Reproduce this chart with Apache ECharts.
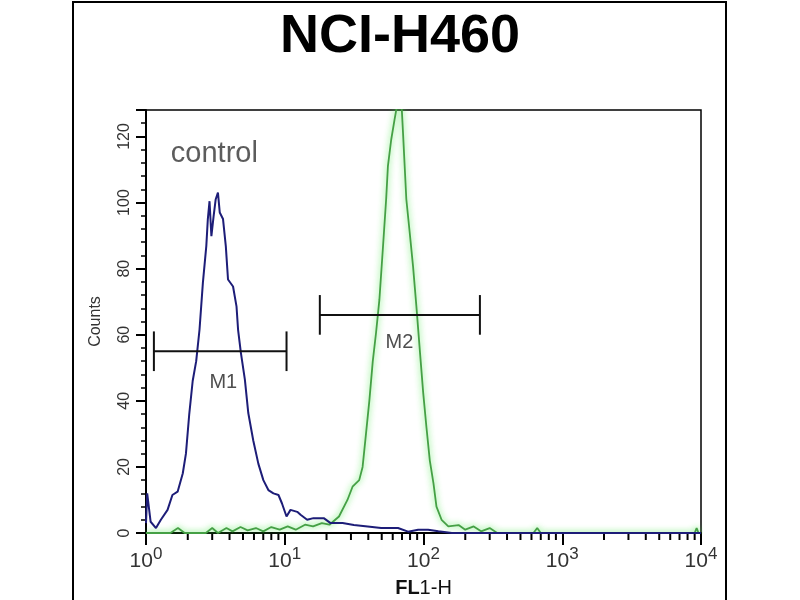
<!DOCTYPE html>
<html>
<head>
<meta charset="utf-8">
<script src="https://cdn.jsdelivr.net/npm/echarts@6/dist/echarts.min.js"></script>
<style>
  html, body { margin: 0; padding: 0; background: #fff; }
  #chart { width: 800px; height: 600px; }
</style>
</head>
<body>
<div id="chart"></div>
<script>
// control histogram (blue), FL1-H channel value -> counts
var blueX = [1.0, 1.02, 1.08, 1.18, 1.28, 1.43, 1.55, 1.69, 1.84, 1.94,
  2.05, 2.17, 2.30, 2.43, 2.57, 2.72, 2.79, 2.87, 2.96, 3.07,
  3.18, 3.30, 3.40, 3.59, 3.76, 3.90, 4.24, 4.49, 4.61, 4.83,
  5.16, 5.46, 5.93, 6.45, 7.01, 7.62, 8.29, 9.01, 9.54, 10.3,
  11.0, 12.3, 13.0, 14.5, 16.1, 19.1, 21.4, 26.1, 31.5, 39.6,
  49.5, 65.5, 77.4, 91.5, 108, 128, 160, 10000];
var blueY = [3, 12, 3.4, 1.5, 4, 7, 11.5, 12.5, 18, 24,
  36, 46, 52, 61.5, 75.7, 86.8, 95, 100.4, 89.8, 95.8,
  101, 103, 97, 95, 86.8, 76.7, 74.6, 68.6, 61.5, 54.5,
  46.4, 36.3, 28, 21, 16, 13, 12, 11.5, 9, 5,
  7, 6.4, 5.5, 4, 4.5, 4.5, 3, 3, 2.4, 2,
  1.5, 1.5, 0.4, 1, 1, 0.5, 0, 0];

// stained sample (green)
var greenX = [1, 1.5, 1.7, 1.9, 2.7, 3.0, 3.3, 3.8, 4.2, 4.8,
  5.4, 6.2, 7.0, 8.0, 9.2, 10.5, 12, 14, 16, 18.5,
  21, 24.6, 28.3, 30.8, 34.4, 36.4, 38.5, 40.7, 43.1, 45.5,
  48.1, 50.9, 53.8, 55.4, 58.5, 61.8, 65.5, 69.2, 71.2, 75.2,
  79.5, 84.1, 88.9, 94.0, 99.5, 105, 111, 118, 124, 135,
  151, 179, 200, 230, 260, 300, 340, 620, 660, 700,
  9000, 9300, 9600, 10000];
var greenY = [0, 0, 1.5, 0, 0, 1.5, 0, 1.5, 0.5, 1.8,
  0.8, 1.5, 0.5, 1.8, 1, 2, 1, 2.5, 2, 3,
  2.5, 5, 10, 14, 16, 20, 30, 40, 52, 60.6,
  70.6, 85.8, 101, 111, 119, 125, 131, 131, 121, 101,
  91, 80.6, 68.5, 55.5, 42.4, 32, 22, 15, 8, 4,
  2, 2.4, 1, 2, 0.5, 1.5, 0, 0, 1.5, 0,
  0, 1.5, 0, 0];

// marker gates
var gateNames = ['M1', 'M2'];
var gateFrom = [1.14, 17.9];
var gateTo = [10.3, 255];
var gateLevel = [55, 66];
var gateLabelX = [3.61, 67];
var gateLabelY = [45.5, 57.6];

var noteText = 'control';
var noteX = 3.11;
var noteY = 114.6;

var minorTickVals = [2, 3, 4, 5, 6, 7, 8, 9,
  20, 30, 40, 50, 60, 70, 80, 90,
  200, 300, 400, 500, 600, 700, 800, 900,
  2000, 3000, 4000, 5000, 6000, 7000, 8000, 9000];

var font = "'Liberation Sans', Arial, sans-serif";

function pairs(xs, ys) {
  return xs.map(function(x, i) { return [x, ys[i]]; });
}

var chart = echarts.init(document.getElementById('chart'));

var option = {
  backgroundColor: '#fff',
  animation: false,
  title: {
    text: 'NCI-H460',
    left: 'center',
    top: 5,
    textStyle: { fontFamily: font, fontSize: 54, fontWeight: 'bold', color: '#000' }
  },
  graphic: [{
    type: 'rect',
    shape: { x: 73, y: 2, width: 653, height: 640 },
    style: { fill: null, stroke: '#000', lineWidth: 2 },
    silent: true
  }],
  grid: {
    left: 146, right: 99, top: 110, bottom: 67,
    outerBoundsMode: 'none',
    containLabel: false,
    show: true, borderColor: '#000', borderWidth: 1.5
  },
  xAxis: {
    type: 'log',
    logBase: 10,
    min: 1,
    max: 10000,
    name: '{b|FL}1-H',
    nameLocation: 'middle',
    nameGap: 45,
    nameTextStyle: {
      fontFamily: font, fontSize: 20, color: '#111',
      rich: { b: { fontFamily: font, fontSize: 20, fontWeight: 'bold', color: '#111' } }
    },
    axisLine: { lineStyle: { color: '#000', width: 2 } },
    axisTick: { length: 12, lineStyle: { color: '#000', width: 2 } },
    splitLine: { show: false },
    axisLabel: {
      margin: 13,
      color: '#333',
      fontFamily: font,
      fontSize: 21,
      formatter: function(v) {
        return '10{s|' + Math.round(Math.log(v) / Math.LN10) + '}';
      },
      rich: {
        s: { fontFamily: font, fontSize: 17, color: '#333', verticalAlign: 'top', padding: [0, 0, 14, 0] }
      }
    }
  },
  yAxis: {
    type: 'value',
    min: 0,
    max: 128,
    interval: 20,
    name: 'Counts',
    nameLocation: 'middle',
    nameRotate: 90,
    nameGap: 42,
    nameTextStyle: { fontFamily: font, fontSize: 16, color: '#333' },
    axisLine: { show: true, lineStyle: { color: '#000', width: 2 } },
    axisTick: { show: true, length: 10, lineStyle: { color: '#000', width: 2 } },
    minorTick: { show: true, splitNumber: 5, length: 5, lineStyle: { color: '#000', width: 1.5 } },
    splitLine: { show: false },
    axisLabel: {
      rotate: 90,
      margin: 13,
      showMaxLabel: false,
      color: '#333',
      fontFamily: font,
      fontSize: 16
    }
  },
  series: [
    {
      name: 'sample',
      type: 'line',
      data: pairs(greenX, greenY),
      showSymbol: false,
      symbol: 'none',
      z: 3,
      lineStyle: {
        color: '#45a045', width: 1.8,
        shadowColor: 'rgba(60,230,60,0.9)', shadowBlur: 6
      }
    },
    {
      name: 'control',
      type: 'line',
      data: pairs(blueX, blueY),
      showSymbol: false,
      symbol: 'none',
      z: 4,
      lineStyle: { color: '#1d1d78', width: 2 }
    },
    {
      name: 'minorTicks',
      type: 'custom',
      clip: false,
      silent: true,
      data: minorTickVals.map(function(v) { return [v, 0]; }),
      renderItem: function(params, api) {
        var p = api.coord([api.value(0), 0]);
        return {
          type: 'line',
          shape: { x1: p[0], y1: p[1], x2: p[0], y2: p[1] + 7 },
          style: { stroke: '#000', lineWidth: 2 }
        };
      }
    },
    {
      name: 'gates',
      type: 'custom',
      silent: true,
      z: 5,
      data: gateNames.map(function(n, i) { return [gateFrom[i], gateLevel[i], gateTo[i]]; }),
      renderItem: function(params, api) {
        var lv = api.value(1);
        var a = api.coord([api.value(0), lv]);
        var b = api.coord([api.value(2), lv]);
        var top = api.coord([api.value(0), lv + 6])[1];
        var bot = api.coord([api.value(0), lv - 6])[1];
        var st = { stroke: '#111', lineWidth: 2 };
        return {
          type: 'group',
          children: [
            { type: 'line', shape: { x1: a[0], y1: a[1], x2: b[0], y2: b[1] }, style: st },
            { type: 'line', shape: { x1: a[0], y1: top, x2: a[0], y2: bot }, style: st },
            { type: 'line', shape: { x1: b[0], y1: top, x2: b[0], y2: bot }, style: st }
          ]
        };
      }
    },
    {
      name: 'labels',
      type: 'scatter',
      symbolSize: 0,
      silent: true,
      z: 6,
      data: gateNames.map(function(n, i) {
        return { name: n, value: [gateLabelX[i], gateLabelY[i]] };
      }).concat([{ name: noteText, value: [noteX, noteY], label: { fontSize: 29, color: '#333' } }]),
      label: {
        show: true,
        position: 'inside',
        formatter: '{b}',
        fontFamily: font,
        fontSize: 20,
        color: '#222'
      }
    }
  ]
};

chart.setOption(option);
</script>
</body>
</html>
